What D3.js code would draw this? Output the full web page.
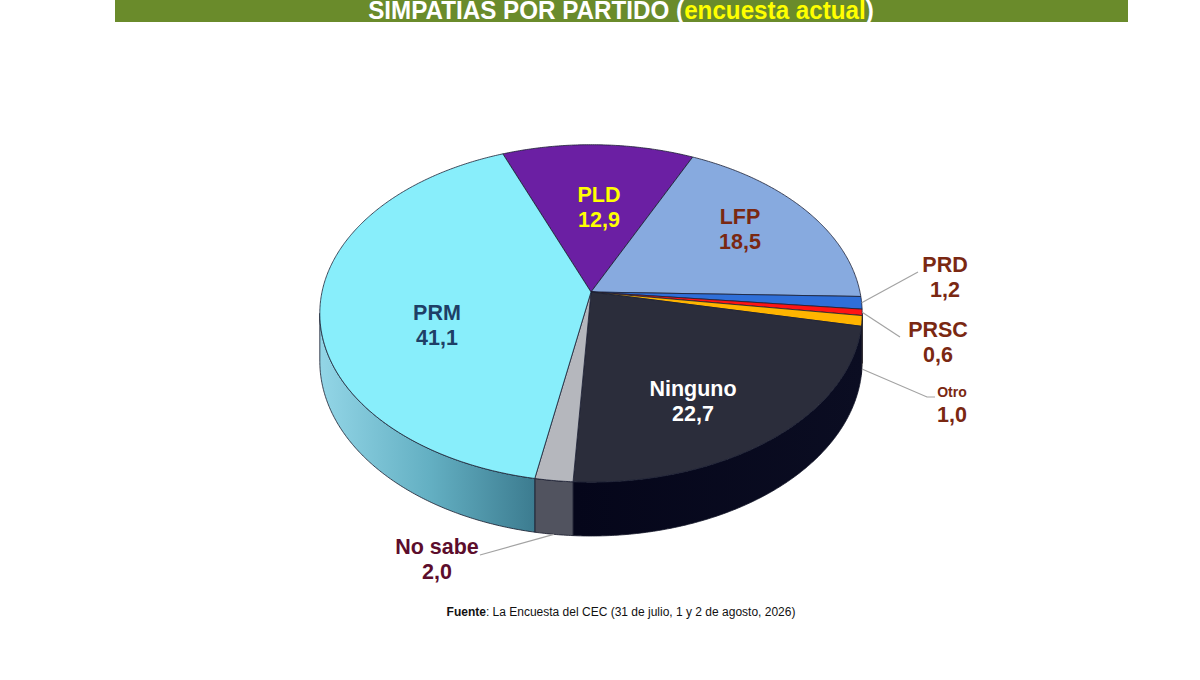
<!DOCTYPE html>
<html>
<head>
<meta charset="utf-8">
<script src="https://cdn.jsdelivr.net/npm/d3@7"></script>
<style>
  body { margin: 0; background: #fff; }
  svg { display: block; font-family: "Liberation Sans", Arial, sans-serif; }
</style>
</head>
<body>
<div id="chart-container"></div>
<script>
// survey data, clockwise from the top of the pie
const parties = ["PLD", "LFP", "PRD", "PRSC", "Otro", "Ninguno", "No sabe", "PRM"];
const shares = [12.9, 18.5, 1.2, 0.6, 1.0, 22.7, 2.0, 41.1];
const titleMain = "SIMPATIAS POR PARTIDO (";
const titleHighlight = "encuesta actual";
const sourceBold = "Fuente";
const sourceRest = ": La Encuesta del CEC (31 de julio, 1 y 2 de agosto, 2026)";

const width = 1200, height = 680;

// 3D pie geometry (perspective tilted disc)
const CX = 591, CY = 292, RX = 269, RY = 166, P = 0.127, DEPTH = 47;
const START = -21.5 * Math.PI / 180;
const VIS0 = Math.acos(-P), VIS1 = 2 * Math.PI - VIS0;

const topColor = d3.scaleOrdinal()
    .domain(parties)
    .range(["#6b1fa3", "#87aadf", "#2f6fd8", "#ff1414", "#ffb400", "#2b2d3b", "#b5b7bd", "#88eefb"]);
const sideColor = d3.scaleOrdinal()
    .domain(parties)
    .range(["#4a0f75", "#5e7cae", "#1d4a9a", "#b00000", "#c98a00", "url(#sideNinguno)", "#51535f", "url(#sidePRM)"]);
const labelColor = d3.scaleOrdinal()
    .domain(parties)
    .range(["#ffff00", "#7a2812", "#7a2812", "#7a2812", "#7a2812", "#ffffff", "#5c0d2c", "#1e3f66"]);

// label placement (baseline of first line)
const labelLayout = {
    "PLD":     { x: 599, y: 202 },
    "LFP":     { x: 740, y: 224 },
    "Ninguno": { x: 693, y: 396 },
    "PRM":     { x: 437, y: 320 },
    "PRD":     { x: 945, y: 272, z: 0,     leader: [[918, 272]] },
    "PRSC":    { x: 938, y: 337, z: 0,     leader: [[900, 337]] },
    "Otro":    { x: 952, y: 397, z: DEPTH, leader: [[927, 397], [935, 397]], small: true },
    "No sabe": { x: 437, y: 554, z: DEPTH, leader: [[480, 555]] }
};

const fmt = v => d3.format(".1f")(v).replace(".", ",");

function proj(a, r, z) {
    const X = r * Math.sin(a), F = r * Math.cos(a);
    const s = 1 / (1 + P * F);
    return [CX + RX * X * s, CY - RY * F * s + z * s];
}

function arcPoints(a0, a1, z) {
    const n = Math.max(2, Math.ceil(Math.abs(a1 - a0) / 0.008));
    return d3.range(n + 1).map(i => proj(a0 + (a1 - a0) * i / n, 1, z));
}

const pie = d3.pie().sort(null).value(d => d.value)
    .startAngle(START).endAngle(START + 2 * Math.PI);
const arcs = pie(parties.map((p, i) => ({ name: p, value: shares[i] })));

const svg = d3.select("#chart-container").append("svg")
    .attr("width", width).attr("height", height)
    .attr("viewBox", [0, 0, width, height]);

const defs = svg.append("defs");
const gPRM = defs.append("linearGradient").attr("id", "sidePRM")
    .attr("gradientUnits", "userSpaceOnUse")
    .attr("x1", 322).attr("x2", 540).attr("y1", 0).attr("y2", 0);
gPRM.append("stop").attr("offset", 0).attr("stop-color", "#92d5e6");
gPRM.append("stop").attr("offset", 0.5).attr("stop-color", "#63afc2");
gPRM.append("stop").attr("offset", 1).attr("stop-color", "#3a798d");
const gNin = defs.append("linearGradient").attr("id", "sideNinguno")
    .attr("gradientUnits", "userSpaceOnUse")
    .attr("x1", 575).attr("x2", 862).attr("y1", 0).attr("y2", 0);
gNin.append("stop").attr("offset", 0).attr("stop-color", "#05061a");
gNin.append("stop").attr("offset", 1).attr("stop-color", "#0b0d22");

// title bar
svg.append("rect").attr("x", 115).attr("y", 0).attr("width", 1013).attr("height", 22)
    .attr("fill", "#6a8b2b");
const titleG = svg.append("g");
const title = titleG.append("text")
    .attr("x", 0).attr("y", 0)
    .attr("text-anchor", "middle")
    .attr("font-weight", "bold").attr("font-size", 24)
    .attr("fill", "#ffffff");
title.append("tspan").text(titleMain);
title.append("tspan").attr("fill", "#ffff00").text(titleHighlight);
title.append("tspan").text(")");
// condense the title to the narrow width of the original
const natural = title.node().getComputedTextLength();
titleG.attr("transform", `translate(621,19) scale(${506 / natural},1.05)`);

const line = d3.line();

// visible sides
const sides = svg.append("g").attr("class", "sides");
arcs.forEach(d => {
    const b0 = Math.max(d.startAngle, VIS0), b1 = Math.min(d.endAngle, VIS1);
    if (b1 <= b0) return;
    const pts = arcPoints(b0, b1, 0).concat(arcPoints(b1, b0, DEPTH));
    sides.append("path")
        .attr("d", line(pts) + "Z")
        .attr("fill", sideColor(d.data.name))
        .attr("stroke", "#15182a").attr("stroke-width", 0.8)
        .attr("stroke-linejoin", "round");
});

// top faces
const tops = svg.append("g").attr("class", "tops");
arcs.forEach(d => {
    const pts = [[CX, CY]].concat(arcPoints(d.startAngle, d.endAngle, 0));
    tops.append("path")
        .attr("d", line(pts) + "Z")
        .attr("fill", topColor(d.data.name))
        .attr("stroke", "#1c1f33").attr("stroke-width", 0.8)
        .attr("stroke-linejoin", "round");
});

// labels, with leader lines for the small slices
const labels = svg.append("g").attr("font-weight", "bold").attr("font-size", 21.5)
    .attr("text-anchor", "middle");
arcs.forEach(d => {
    const L = labelLayout[d.data.name];
    if (L.leader) {
        const start = proj((d.startAngle + d.endAngle) / 2, 1, L.z);
        svg.append("path")
            .attr("d", line([start].concat(L.leader)))
            .attr("fill", "none").attr("stroke", "#a3a3a3").attr("stroke-width", 1.2);
    }
    const t = labels.append("text").attr("fill", labelColor(d.data.name));
    t.append("tspan").attr("x", L.x).attr("y", L.y)
        .attr("font-size", L.small ? 14 : null).text(d.data.name);
    t.append("tspan").attr("x", L.x).attr("y", L.y + 24.5).text(fmt(d.data.value));
});

// source
const src = svg.append("text")
    .attr("x", 621).attr("y", 616).attr("text-anchor", "middle")
    .attr("font-size", 12).attr("fill", "#111");
src.append("tspan").attr("font-weight", "bold").text(sourceBold);
src.append("tspan").text(sourceRest);
</script>
</body>
</html>
